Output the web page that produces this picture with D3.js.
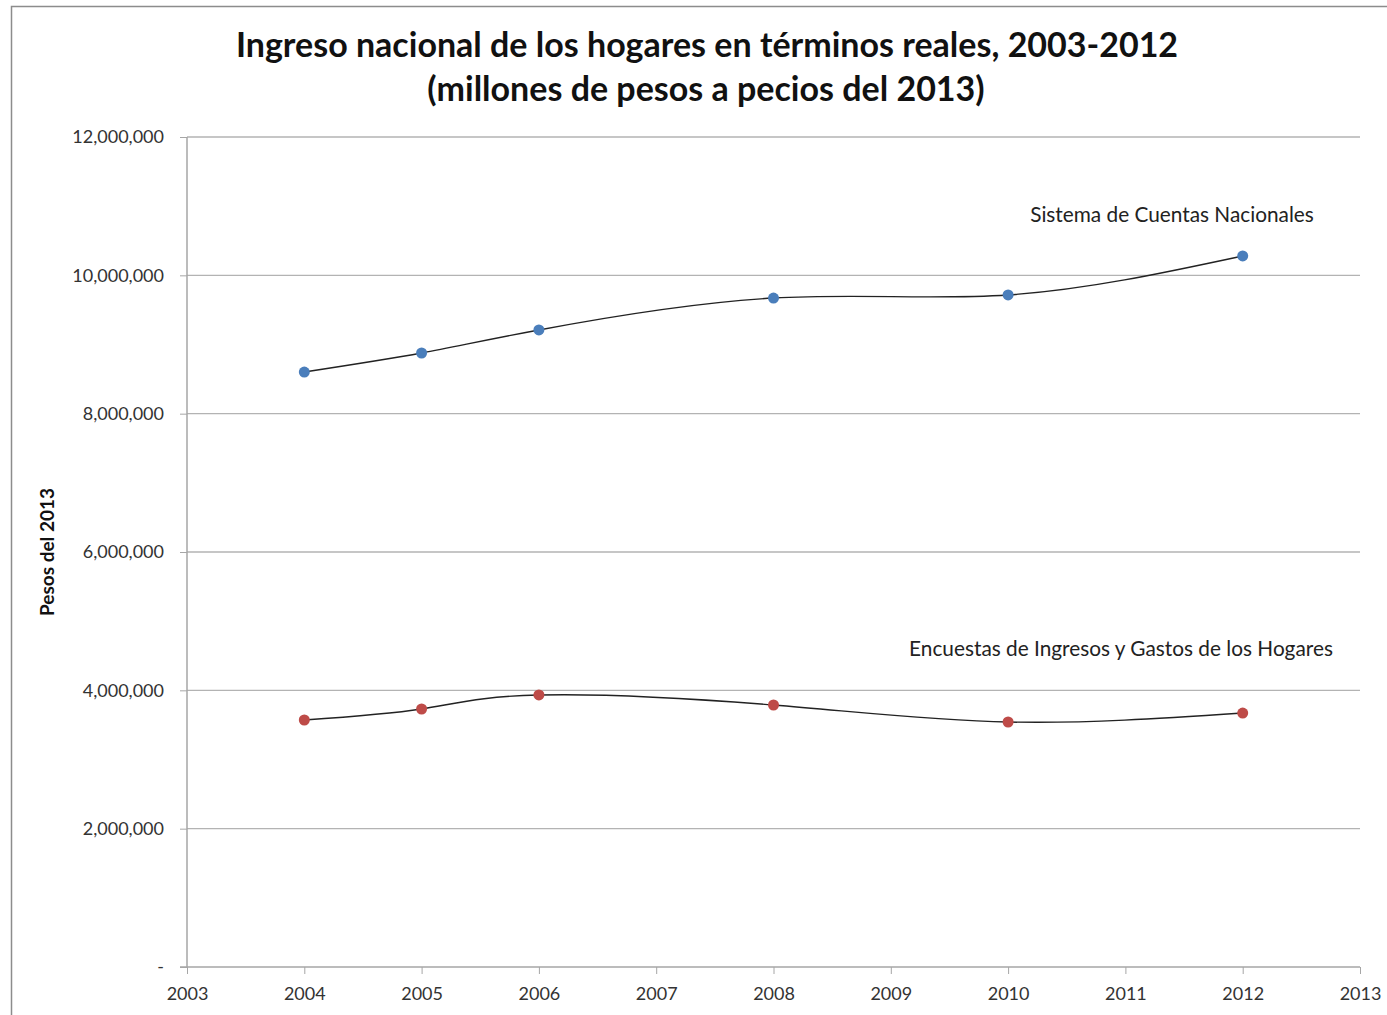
<!DOCTYPE html>
<html>
<head>
<meta charset="utf-8">
<script src="https://cdnjs.cloudflare.com/ajax/libs/d3/7.8.5/d3.min.js"></script>
<style>
    body { margin: 0; background: #fff; }
    text { font-family: Lato, 'Open Sans', sans-serif; fill: #222; }
    .axis path, .axis line { stroke: #a6a6a6; }
    .axis text { font-size: 18px; fill: #333; }
</style>
</head>
<body>
<div id="graph"></div>
<script>
var years = [2004, 2005, 2006, 2008, 2010, 2012];
var cuentasNacionales = [8602000, 8877000, 9210000, 9672000, 9716000, 10280000];
var encuestas = [3571000, 3730000, 3933000, 3788000, 3542000, 3672000];
var yTicks = [0, 2000000, 4000000, 6000000, 8000000, 10000000, 12000000];
var xTicks = [2003, 2004, 2005, 2006, 2007, 2008, 2009, 2010, 2011, 2012, 2013];
var seriesNames = ['Sistema de Cuentas Nacionales', 'Encuestas de Ingresos y Gastos de los Hogares'];

window.onload = start;

function start() {
    var width = 1387;
    var height = 1015;
    var left = 187;
    var right = 1360;
    var top = 137;
    var bottom = 967;

    var svg = d3
        .select('#graph')
        .append('svg')
        .attr('width', width)
        .attr('height', height);

    // chart border (right / bottom run off the picture)
    svg.append('rect')
        .attr('x', 11.5)
        .attr('y', 6.5)
        .attr('width', width + 20)
        .attr('height', height + 20)
        .attr('fill', 'none')
        .attr('stroke', '#8c8c8c')
        .attr('stroke-width', 1.5);

    var xScale = d3.scaleLinear().domain([2003, 2013]).range([left, right]);
    var yScale = d3.scaleLinear().domain([0, 12000000]).range([bottom, top]);

    // gridlines
    svg.append('g')
        .selectAll('.grid')
        .data(yTicks.filter(function(d) { return d > 0; }))
        .enter()
        .append('line')
        .attr('class', 'grid')
        .attr('x1', left)
        .attr('x2', right)
        .attr('y1', function(d) { return yScale(d); })
        .attr('y2', function(d) { return yScale(d); })
        .attr('stroke', '#b3b3b3')
        .attr('stroke-width', 1.3);

    var yAxis = d3.axisLeft(yScale)
        .tickValues(yTicks)
        .tickSize(7)
        .tickPadding(16)
        .tickFormat(function(d) { return d == 0 ? '-' : d3.format(',')(d); });

    var xAxis = d3.axisBottom(xScale)
        .tickValues(xTicks)
        .tickSize(7)
        .tickPadding(13)
        .tickFormat(d3.format('d'));

    svg.append('g')
        .attr('class', 'y axis')
        .attr('transform', 'translate(' + left + ',0)')
        .call(yAxis)
        .call(function(g) {
            g.select('.domain').attr('d', 'M0,' + top + 'V' + bottom).attr('stroke-width', 1.5);
        });

    svg.append('g')
        .attr('class', 'x axis')
        .attr('transform', 'translate(0,' + bottom + ')')
        .call(xAxis)
        .call(function(g) {
            g.select('.domain').attr('d', 'M' + (left - 7) + ',0H' + right).attr('stroke-width', 1.5);
        });

    var line = d3.line()
        .x(function(d) { return xScale(d.year); })
        .y(function(d) { return yScale(d.value); })
        .curve(d3.curveNatural);

    var series = [
        { name: seriesNames[0], values: cuentasNacionales, color: '#4a7ebb' },
        { name: seriesNames[1], values: encuestas, color: '#be4b48' }
    ];

    series.forEach(function(s) {
        var pts = years.map(function(y, i) { return { year: y, value: s.values[i] }; });
        svg.append('path')
            .datum(pts)
            .attr('d', line)
            .attr('fill', 'none')
            .attr('stroke', '#222')
            .attr('stroke-width', 1.4);
        svg.append('g')
            .selectAll('circle')
            .data(pts)
            .enter()
            .append('circle')
            .attr('cx', function(d) { return xScale(d.year); })
            .attr('cy', function(d) { return yScale(d.value); })
            .attr('r', 5.5)
            .attr('fill', s.color);
    });

    // series labels
    svg.append('text')
        .attr('x', 1172)
        .attr('y', 222)
        .attr('text-anchor', 'middle')
        .style('font-size', '20.8px')
        .text(seriesNames[0]);
    svg.append('text')
        .attr('x', 1121)
        .attr('y', 656)
        .attr('text-anchor', 'middle')
        .style('font-size', '20.8px')
        .text(seriesNames[1]);

    // titles
    svg.append('text')
        .attr('x', 707)
        .attr('y', 57)
        .attr('text-anchor', 'middle')
        .style('font-size', '34px')
        .style('font-weight', 'bold')
        .style('fill', '#111')
        .text('Ingreso nacional de los hogares en términos reales, 2003-2012');
    svg.append('text')
        .attr('x', 706)
        .attr('y', 101)
        .attr('text-anchor', 'middle')
        .style('font-size', '34px')
        .style('font-weight', 'bold')
        .style('fill', '#111')
        .text('(millones de pesos a pecios del 2013)');

    svg.append('text')
        .attr('transform', 'translate(54,552) rotate(-90)')
        .attr('text-anchor', 'middle')
        .style('font-size', '19px')
        .style('font-weight', 'bold')
        .style('fill', '#111')
        .text('Pesos del 2013');
}
</script>
</body>
</html>
